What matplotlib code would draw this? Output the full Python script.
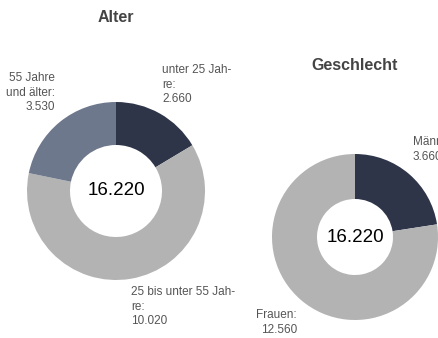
import matplotlib.pyplot as plt

plt.rcParams['font.family'] = ['Liberation Sans', 'DejaVu Sans']

# Alter
alter_labels = ["unter 25 Jah-\nre:\n2.660", "25 bis unter 55 Jah-\nre:\n10.020", "55 Jahre\nund älter:\n3.530"]
alter_values = [2660, 10020, 3530]
alter_total = "16.220"

# Geschlecht
geschl_labels = ["Männer:\n3.660", "Frauen:\n12.560"]
geschl_values = [3660, 12560]
geschl_total = "16.220"

dark = "#2e3549"
slate = "#6e788c"
grey = "#b3b3b3"
txt = "#555555"
lab = dict(fontsize=8.5, color=txt, linespacing=1.3)

W, H = 439, 338
fig = plt.figure(figsize=(W / 100, H / 100), dpi=100)
ax = fig.add_axes([0, 0, 1, 1])

def py(y):
    return H - y

# left donut
ax.pie(alter_values, colors=[dark, grey, slate], startangle=90, counterclock=False,
       center=(116, py(191)), radius=89, wedgeprops=dict(width=43, linewidth=0),
       frame=True)
ax.text(116, py(191), alter_total, ha="center", va="center", fontsize=13.5, color="black")
ax.text(116, py(18), "Alter", ha="center", va="center", fontsize=11.5, fontweight="bold", color="#444444")

ax.text(162, py(64), alter_labels[0], ha="left", va="top", **lab)
ax.text(55, py(72), alter_labels[2], ha="right", va="top", **lab)
ax.text(131, py(286), alter_labels[1], ha="left", va="top", **lab)

# right donut
ax.pie(geschl_values, colors=[dark, grey], startangle=90, counterclock=False,
       center=(355, py(237)), radius=83, wedgeprops=dict(width=45, linewidth=0),
       frame=True)
ax.text(355, py(237), geschl_total, ha="center", va="center", fontsize=13.5, color="black")
ax.text(355, py(65), "Geschlecht", ha="center", va="center", fontsize=11.5, fontweight="bold", color="#444444")

ax.text(413, py(136), geschl_labels[0], ha="left", va="top", **lab)
ax.text(297, py(309), geschl_labels[1], ha="right", va="top", **lab)

ax.set_xlim(0, W)
ax.set_ylim(0, H)
ax.set_aspect("equal")
ax.axis("off")

fig.savefig("out.png", dpi=100)
